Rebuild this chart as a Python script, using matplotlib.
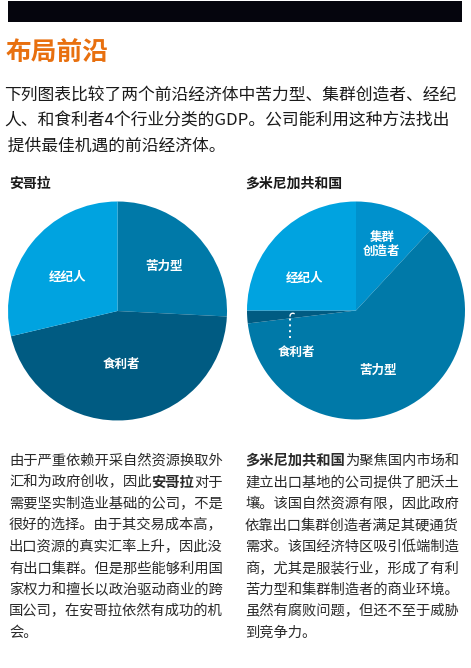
import numpy as np
import matplotlib
matplotlib.use("Agg")
import matplotlib.pyplot as plt
from matplotlib.patches import Rectangle

plt.rcParams['font.family'] = ['Noto Sans CJK SC', 'DejaVu Sans']

# ---------------- data ----------------
title = "布局前沿"
intro_lines = ["下列图表比较了两个前沿经济体中苦力型、集群创造者、经纪",
               "人、和食利者4个行业分类的GDP。公司能利用这种方法找出",
               " 提供最佳机遇的前沿经济体。"]

angola_name = "安哥拉"
angola_labels = ["苦力型", "食利者", "经纪人"]
angola_values = [25.8, 45.5, 28.7]

dr_name = "多米尼加共和国"
dr_labels = ["集群\n创造者", "苦力型", "食利者", "经纪人"]
dr_values = [11.9, 61.2, 1.9, 25.0]

# body text: list of lines, each a list of (text, bold)
angola_text = [
    [("由于严重依赖开采自然资源换取外", False)],
    [("汇和为政府创收，因此", False), ("安哥拉", True), ("对于", False)],
    [("需要坚实制造业基础的公司，不是", False)],
    [("很好的选择。由于其交易成本高，", False)],
    [("出口资源的真实汇率上升，因此没", False)],
    [("有出口集群。但是那些能够利用国", False)],
    [("家权力和擅长以政治驱动商业的跨", False)],
    [("国公司，在安哥拉依然有成功的机", False)],
    [("会。", False)],
]
dr_text = [
    [("多米尼加共和国", True), ("为聚焦国内市场和", False)],
    [("建立出口基地的公司提供了肥沃土", False)],
    [("壤。该国自然资源有限，因此政府", False)],
    [("依靠出口集群创造者满足其硬通货", False)],
    [("需求。该国经济特区吸引低端制造", False)],
    [("商，尤其是服装行业，形成了有利", False)],
    [("苦力型和集群制造者的商业环境。", False)],
    [("虽然有腐败问题，但还不至于威胁", False)],
    [("到竞争力。", False)],
]

# ---------------- style ----------------
W, H = 471, 668
fig = plt.figure(figsize=(W / 100, H / 100), dpi=100)
fig.patch.set_facecolor("white")

def fx(x):
    return x / W

def fy(y):
    return 1 - y / H

# black top bar
fig.patches.append(Rectangle((fx(8), fy(22)), fx(462) - fx(8), fy(1) - fy(22),
                             transform=fig.transFigure, facecolor="#05050d",
                             edgecolor="none"))

fig.text(fx(6), fy(52), title, fontsize=18.5, fontweight="bold",
         color="#e8700f", va="center", ha="left")

intro_y = [95, 121, 146]
for s, y in zip(intro_lines, intro_y):
    fig.text(fx(4), fy(y), s, fontsize=12.1, color="#1a1a1a", va="center", ha="left")

fig.text(fx(9), fy(184), angola_name, fontsize=10, fontweight="bold",
         color="#1a1a1a", va="center", ha="left")
fig.text(fx(245), fy(184), dr_name, fontsize=10, fontweight="bold",
         color="#1a1a1a", va="center", ha="left")

C_KULI = "#0079a8"
C_SHILI = "#005b82"
C_JINGJI = "#00a3e0"
C_JIQUN = "#0091cc"


def pie_axes(cx, cy, r):
    ax = fig.add_axes([fx(cx - r), fy(cy + r), 2 * r / W, 2 * r / H])
    return ax


def finish(ax):
    ax.set_xlim(-1, 1)
    ax.set_ylim(-1, 1)
    ax.set_aspect("equal")
    ax.axis("off")


def draw_pie(ax, values, labels, colors, dists, offsets):
    wedges, _ = ax.pie(values, colors=colors, startangle=90, counterclock=False,
                       radius=1.0, wedgeprops=dict(linewidth=0))
    for w, lab, d, off in zip(wedges, labels, dists, offsets):
        mid = np.deg2rad((w.theta1 + w.theta2) / 2 + off)
        x, y = d * np.cos(mid), d * np.sin(mid)
        ax.text(x, y, lab, ha="center", va="center", color="white",
                fontsize=9, fontweight="bold", linespacing=1.05)
    finish(ax)


axL = pie_axes(117.5, 311, 109.5)
draw_pie(axL, angola_values, angola_labels, [C_KULI, C_SHILI, C_JINGJI],
         [0.59, 0.49, 0.55], [0, -1, 4])

axR = pie_axes(356, 310.5, 109)
draw_pie(axR, dr_values, dr_labels, [C_JIQUN, C_KULI, C_SHILI, C_JINGJI],
         [0.65, 0.58, 0.67, 0.56], [0, -7, 32, 13])

# dotted leader for the thin 食利者 slice
lx = -0.605
yy = np.array([-0.25, -0.06])
axR.plot([lx, lx], yy, color="white", lw=1.4, linestyle=(0, (1, 2)))
t = np.linspace(np.pi, np.pi * 0.35, 8)
axR.plot(lx + 0.025 + 0.025 * np.cos(t), -0.05 + 0.025 * np.sin(t),
         color="white", lw=1.0)
finish(axR)

# body text
line_y0, line_dy = 461, 21.5


def draw_body(lines, x0):
    for i, segs in enumerate(lines):
        y = fy(line_y0 + i * line_dy)
        prev = None
        for s, b in segs:
            kw = dict(fontsize=10.3, color="#2a2a2a",
                      fontweight="bold" if b else "normal")
            if prev is None:
                prev = fig.text(fx(x0), y, s, va="center", ha="left", **kw)
            else:
                prev = fig.add_artist(matplotlib.text.Annotation(
                    s, xy=(1, 0.5), xycoords=prev, va="center", ha="left", **kw))


draw_body(angola_text, 9)
draw_body(dr_text, 245)

fig.savefig("out.png", dpi=100, facecolor="white")
